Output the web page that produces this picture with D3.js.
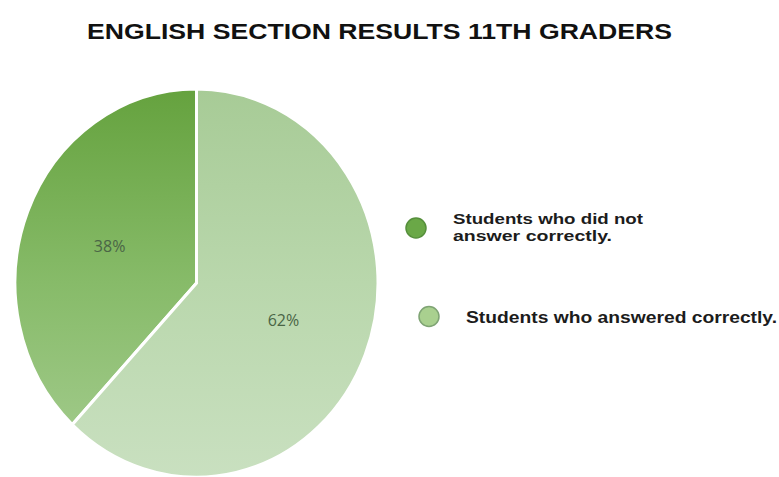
<!DOCTYPE html>
<html>
<head>
<meta charset="utf-8">
<script src="https://cdn.jsdelivr.net/npm/d3@7"></script>
<style>
  html, body { margin: 0; padding: 0; background: #ffffff; }
  svg { display: block; }
</style>
</head>
<body>
<div id="chart"></div>
<script>
// Chart data
const title = "ENGLISH SECTION RESULTS 11TH GRADERS";
const categories = ["Students who did not answer correctly.", "Students who answered correctly."];
const legendLines = [["Students who did not", "answer correctly."], ["Students who answered correctly."]];
const values = [38, 62];
const percentLabels = ["38%", "62%"];

const width = 779, height = 477;
const svg = d3.select("#chart").append("svg")
  .attr("width", width).attr("height", height);

const defs = svg.append("defs");
// vertical gradients for each slice (darker at the top, lighter toward the bottom)
const gradStops = [
  [["0%", "#65a23e"], ["50%", "#87bb69"], ["100%", "#a6cd91"]],
  [["0%", "#a7cb96"], ["50%", "#b9d7ac"], ["100%", "#c9e0c0"]]
];
gradStops.forEach((stops, i) => {
  const g = defs.append("linearGradient")
    .attr("id", "slice" + i)
    .attr("gradientUnits", "userSpaceOnUse")
    .attr("x1", 0).attr("y1", -182).attr("x2", 0).attr("y2", 182);
  stops.forEach(([o, c]) => g.append("stop").attr("offset", o).attr("stop-color", c));
});

// title
svg.append("text")
  .attr("x", 87).attr("y", 38.5)
  .attr("textLength", 585).attr("lengthAdjust", "spacingAndGlyphs")
  .attr("font-family", "Liberation Sans, Arial, sans-serif")
  .attr("font-weight", "bold").attr("font-size", 22)
  .attr("fill", "#111")
  .text(title);

// pie: first slice runs counterclockwise from 12 o'clock
const cx = 196.5, cy = 283, r = 181.5, yStretch = 1.07;
const pie = d3.pie().sort(null).value(d => d)
  .startAngle(0).endAngle(-2 * Math.PI);
const arcs = pie(values);
const arc = d3.arc().innerRadius(0).outerRadius(r);
const labelArc = d3.arc().innerRadius(0).outerRadius(r * 1.03);

const pieG = svg.append("g")
  .attr("transform", `translate(${cx},${cy}) scale(1,${yStretch})`);

pieG.selectAll("path.slice").data(arcs).enter().append("path")
  .attr("class", "slice")
  .attr("d", arc)
  .attr("fill", (d, i) => `url(#slice${i})`)
  .attr("stroke", "#ffffff")
  .attr("stroke-width", 3)
  .attr("stroke-linejoin", "miter");

// percentage labels at slice centroids (the text itself is not stretched)
const labelG = svg.append("g").attr("transform", `translate(${cx},${cy})`);
labelG.selectAll("text").data(arcs).enter().append("text")
  .attr("x", d => labelArc.centroid(d)[0])
  .attr("y", d => labelArc.centroid(d)[1] * yStretch)
  .attr("text-anchor", "middle")
  .attr("dominant-baseline", "central")
  .attr("font-family", "Open Sans, sans-serif")
  .attr("font-size", 16)
  .attr("fill", "#4a6546")
  .text((d, i) => percentLabels[i]);

// legend
const legendFill = ["#6aa847", "#a9d08f"];
const legendStroke = ["#558f3b", "#7fa474"];
const legendItems = [
  { cx: 416, cy: 228, tx: 453, ty: 224, lens: [190, 159] },
  { cx: 429, cy: 316.5, tx: 466, ty: 322.5, lens: [311] }
];
const legendG = svg.append("g");
legendItems.forEach((item, i) => {
  legendG.append("circle")
    .attr("cx", item.cx).attr("cy", item.cy).attr("r", 10)
    .attr("fill", legendFill[i])
    .attr("stroke", legendStroke[i]).attr("stroke-width", 1.5);
  legendLines[i].forEach((line, j) => {
    legendG.append("text")
      .attr("x", item.tx).attr("y", item.ty + j * 17)
      .attr("textLength", item.lens[j]).attr("lengthAdjust", "spacingAndGlyphs")
      .attr("font-family", "Liberation Sans, Arial, sans-serif")
      .attr("font-weight", "bold").attr("font-size", i === 0 ? 15 : 16)
      .attr("fill", "#1c1c1c")
      .text(line);
  });
});
</script>
</body>
</html>
